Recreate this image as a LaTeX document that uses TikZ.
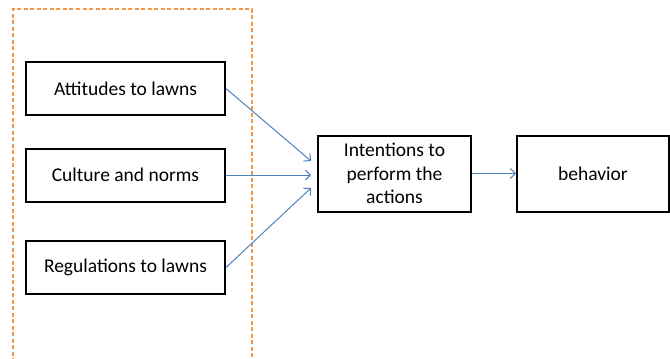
\documentclass[tikz,border=0pt]{standalone}
\usepackage{fontspec}
\setmainfont{Carlito}
\usetikzlibrary{arrows.meta}
\definecolor{ablue}{HTML}{4F81BD}
\definecolor{aorange}{HTML}{F79646}
\begin{document}
\begin{tikzpicture}[x=1pt,y=-1pt,
  box/.style={draw=black,line width=2pt,minimum width=199pt,minimum height=53pt,inner sep=0pt,align=center,font=\fontsize{19.5}{23.5}\selectfont},
  conn/.style={draw=ablue,line width=1pt,-{Straight Barb[length=5pt,width=10pt]}}]
\useasboundingbox (0,0) rectangle (670,359);
\draw[aorange,line width=1.5pt,dash pattern=on 4pt off 2.5pt] (13,362) -- (13,9) -- (252,9) -- (252,362);
\node[box] (att) at (125.5,88.5) {Attitudes to lawns};
\node[box] (cul) at (125.5,175) {Culture and norms};
\node[box] (reg) at (125.5,267.5) {Regulations to lawns};
\node[box,minimum width=153pt,minimum height=76pt] (int) at (394.5,173.5) {Intentions to\\perform the\\actions};
\node[box,minimum width=152pt,minimum height=76pt] (beh) at (593,173.5) {behavior};
\coordinate (e1) at (311,161);
\coordinate (e2) at (311,175);
\coordinate (e3) at (311,188);
\draw[conn] (att.east) -- (e1);
\draw[conn] (cul.east) -- (e2);
\draw[conn] (reg.east) -- (e3);
\draw[conn] (int.east) -- (beh.west);
\end{tikzpicture}
\end{document}
